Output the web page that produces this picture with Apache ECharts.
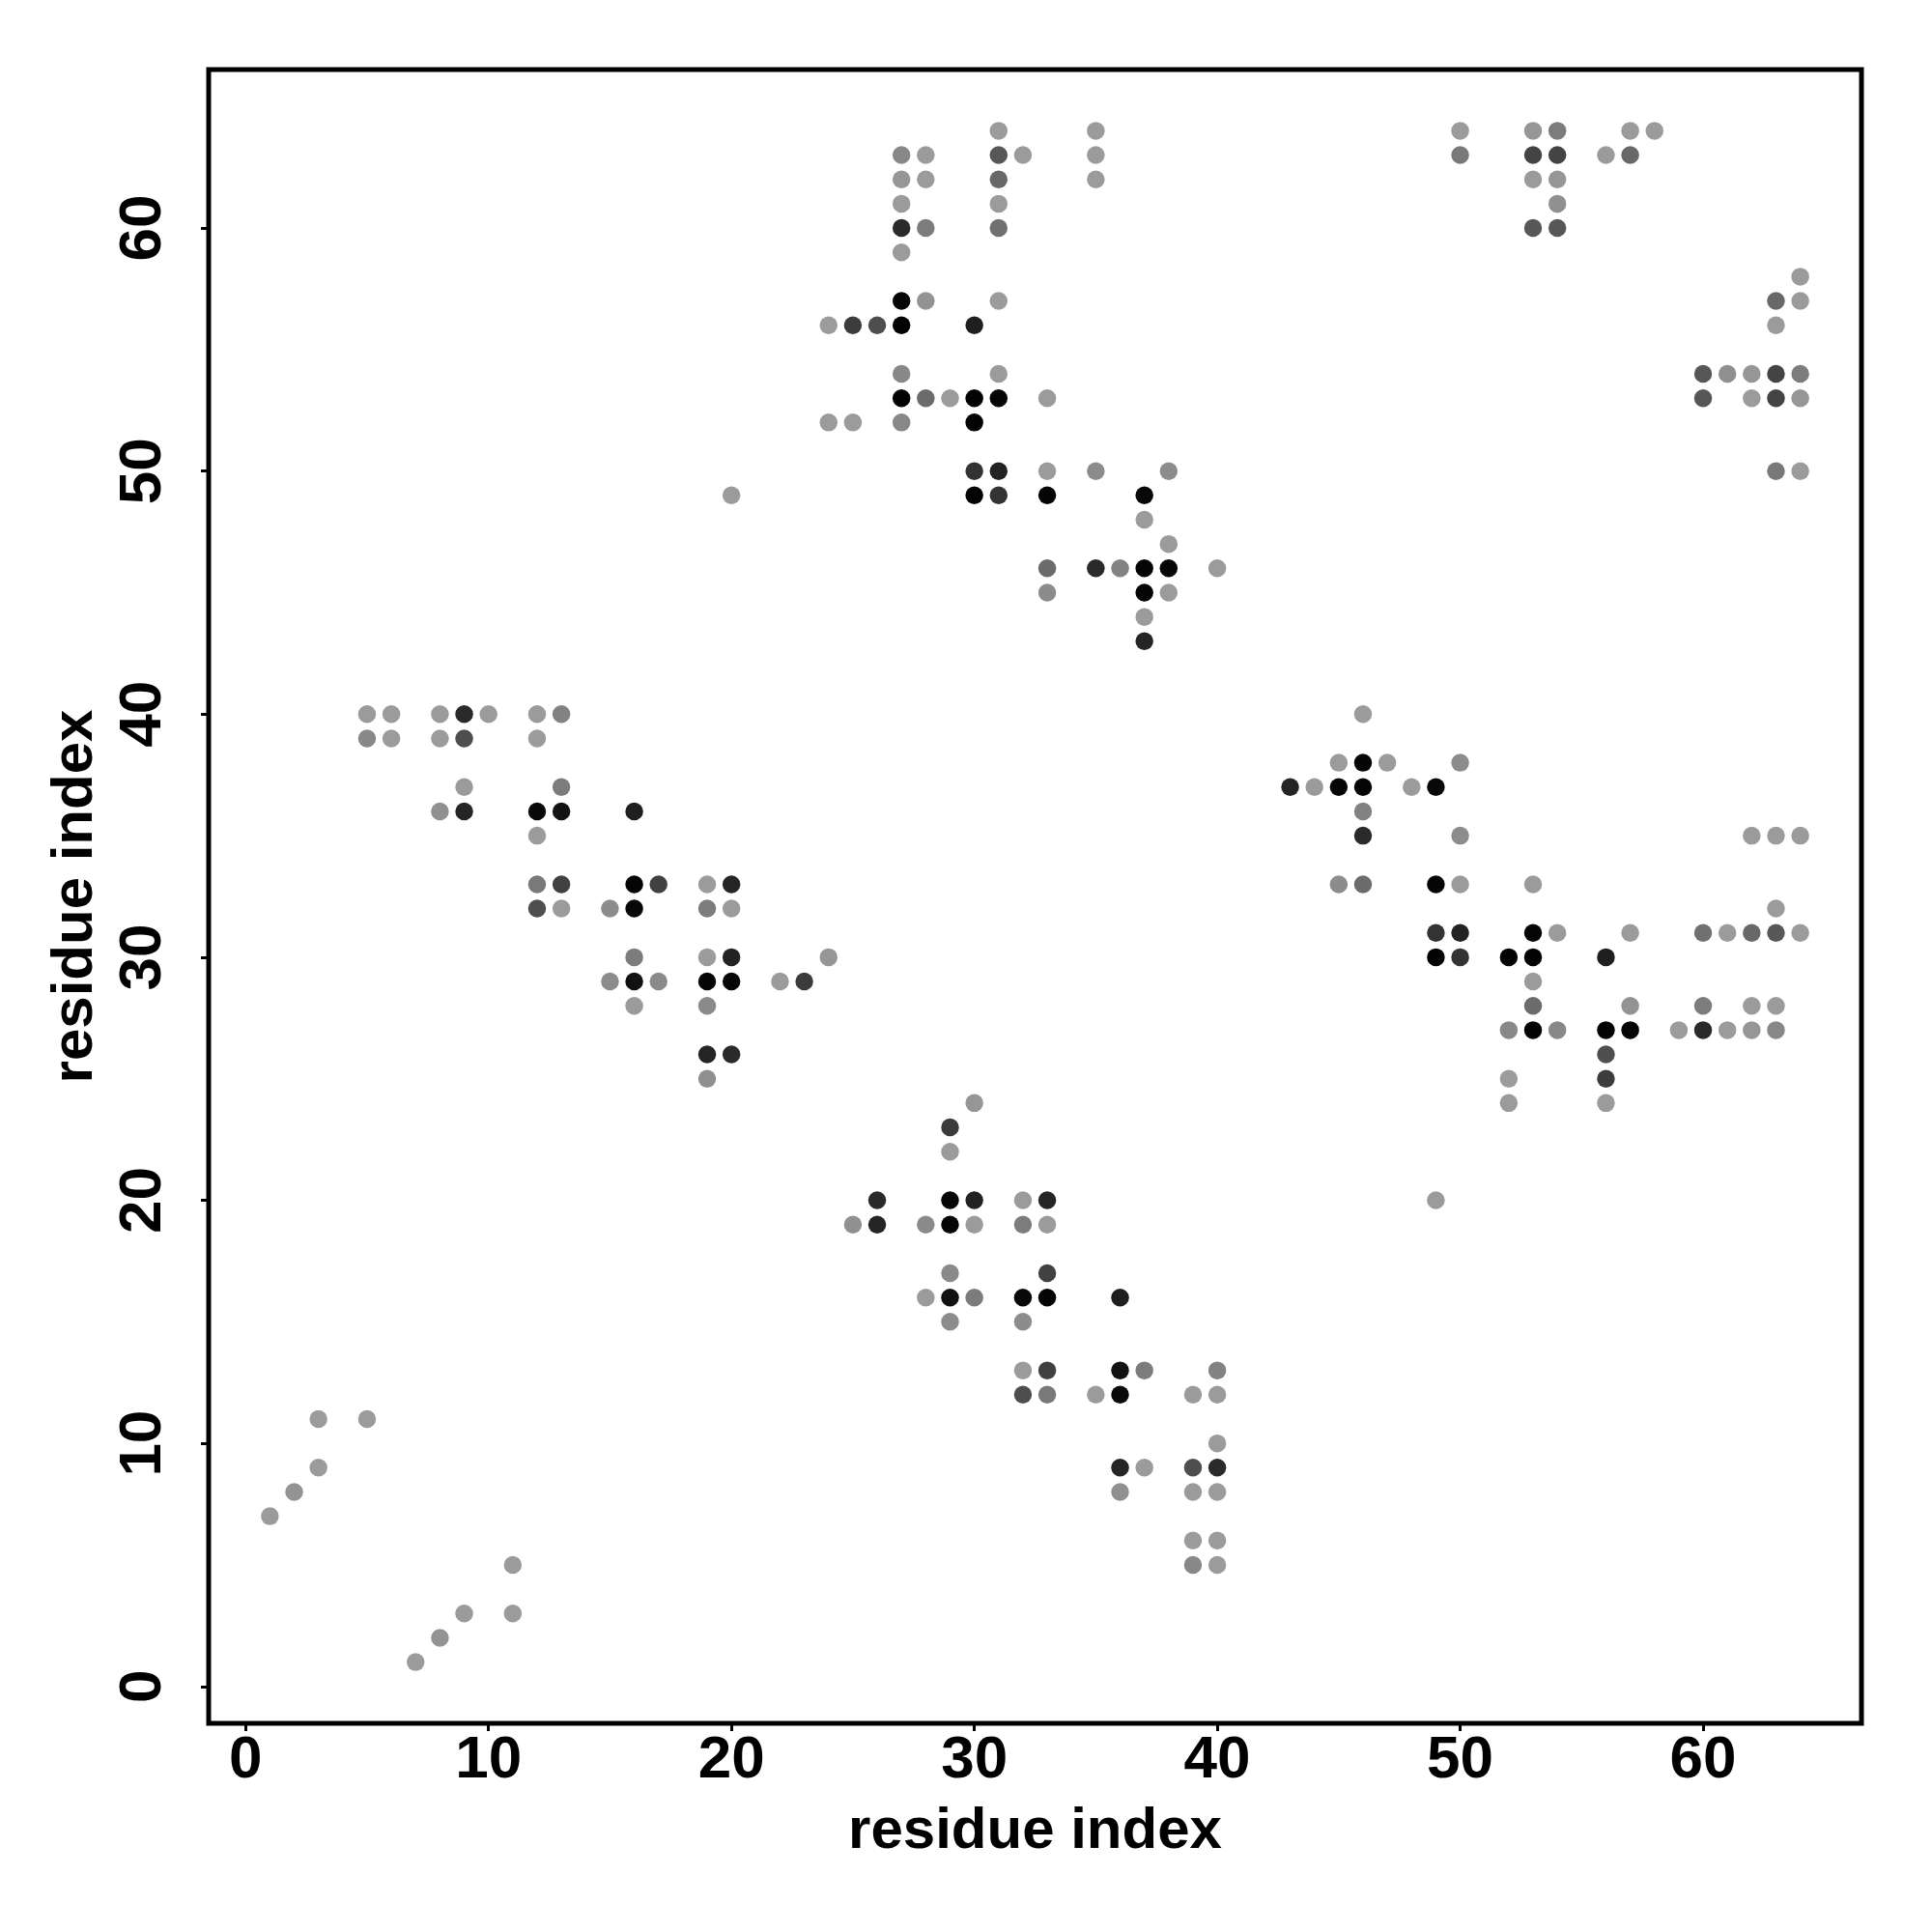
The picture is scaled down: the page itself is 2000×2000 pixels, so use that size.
<!DOCTYPE html>
<html>
<head>
<meta charset="utf-8">
<script src="https://cdn.jsdelivr.net/npm/echarts@6/dist/echarts.min.js"></script>
<style>html,body{margin:0;padding:0;background:#fff;}#c{width:2000px;height:2000px;}</style>
</head>
<body>
<div id="c"></div>
<script>
// Contact map (symmetric): each contact listed once with i < j
const resI = [1,2,3,3,5,5,5,6,6,8,8,8,9,9,9,9,10,12,12,12,12,12,12,13,13,13,13,13,15,15,16,16,16,16,16,16,17,17,19,19,19,19,19,19,19,20,20,20,20,20,20,22,23,24,24,24,25,25,26,27,27,27,27,27,27,27,27,27,27,28,28,28,28,28,29,30,30,30,30,30,31,31,31,31,31,31,31,31,31,31,32,33,33,33,33,33,35,35,35,35,35,36,37,37,37,37,37,37,38,38,38,38,40,50,50,53,53,53,53,54,54,54,54,54,56,57,57,58];
const resJ = [7,8,9,11,11,39,40,39,40,36,39,40,36,37,39,40,40,32,33,35,36,39,40,32,33,36,37,40,29,32,28,29,30,32,33,36,29,33,25,26,28,29,30,32,33,26,29,30,32,33,49,29,29,30,52,56,52,56,56,52,53,54,56,57,59,60,61,62,63,53,57,60,62,63,53,49,50,52,53,56,49,50,53,54,57,60,61,62,63,64,63,45,46,49,50,53,46,50,62,63,64,46,43,44,45,46,48,49,45,46,47,50,46,63,64,60,62,63,64,60,61,62,63,64,63,63,64,64];
const contactStrength = [0,0.05,0,0,0,0.12,0,0,0,0.07,0,0,0.76,0,0.5,0.73,0,0.5,0.22,0,0.94,0,0,0,0.58,0.88,0.2,0.16,0.1,0.1,0,0.89,0.2,0.95,0.97,0.8,0.11,0.58,0.07,0.76,0.11,0.97,0,0.2,0,0.73,0.96,0.78,0,0.76,0,0,0.62,0.03,0,0,0,0.61,0.5,0.12,0.98,0.12,0.98,0.97,0,0.73,0,0.03,0.12,0.31,0.05,0.2,0,0,0,0.98,0.67,0.98,0.98,0.8,0.67,0.78,0.97,0,0,0.28,0,0.33,0.44,0,0,0.1,0.31,0.97,0,0,0.73,0.1,0,0,0,0.16,0.76,0,0.97,0.97,0,0.95,0,0.97,0,0.1,0,0.22,0,0.44,0,0.56,0.03,0.44,0.07,0.03,0.56,0.2,0,0.33,0,0];
const tickValues = [0,10,20,30,40,50,60];
const axisTitle = 'residue index';

const points = [];
for (let k = 0; k < resI.length; k++) {
  points.push([resI[k], resJ[k], contactStrength[k]]);
  points.push([resJ[k], resI[k], contactStrength[k]]);
}

const FONT = '"Liberation Sans", Arial, Helvetica, sans-serif';
const chart = echarts.init(document.getElementById('c'), null, {renderer: 'canvas'});
const axisCommon = {
  type: 'value',
  min: -1.52,
  max: 66.52,
  splitLine: {show: false},
  axisLine: {show: false, onZero: false},
  axisTick: {show: true, customValues: tickValues, length: 8, lineStyle: {color: '#000', width: 3}},
  name: axisTitle,
  nameLocation: 'middle',
  nameTextStyle: {fontFamily: FONT, fontWeight: 'bold', fontSize: 60, color: '#000'}
};
chart.setOption({
  animation: false,
  backgroundColor: '#fff',
  grid: {left: 216, top: 72, width: 1711, height: 1712, show: true, borderColor: '#000', borderWidth: 5, backgroundColor: 'transparent'},
  xAxis: Object.assign({}, axisCommon, {
    nameGap: 82,
    axisLabel: {customValues: tickValues, margin: 8, fontFamily: FONT, fontWeight: 'bold', fontSize: 62, color: '#000'}
  }),
  yAxis: Object.assign({}, axisCommon, {
    nameGap: 108,
    nameRotate: 90,
    axisLabel: {customValues: tickValues, margin: 36, rotate: 90, fontFamily: FONT, fontWeight: 'bold', fontSize: 62, color: '#000'}
  }),
  visualMap: {show: false, type: 'continuous', dimension: 2, min: 0, max: 1, inRange: {color: ['#9b9b9b', '#000000']}},
  series: [{
    type: 'scatter',
    data: points,
    symbol: 'circle',
    symbolSize: 18.5,
    itemStyle: {opacity: 1}
  }]
});
</script>
</body>
</html>
